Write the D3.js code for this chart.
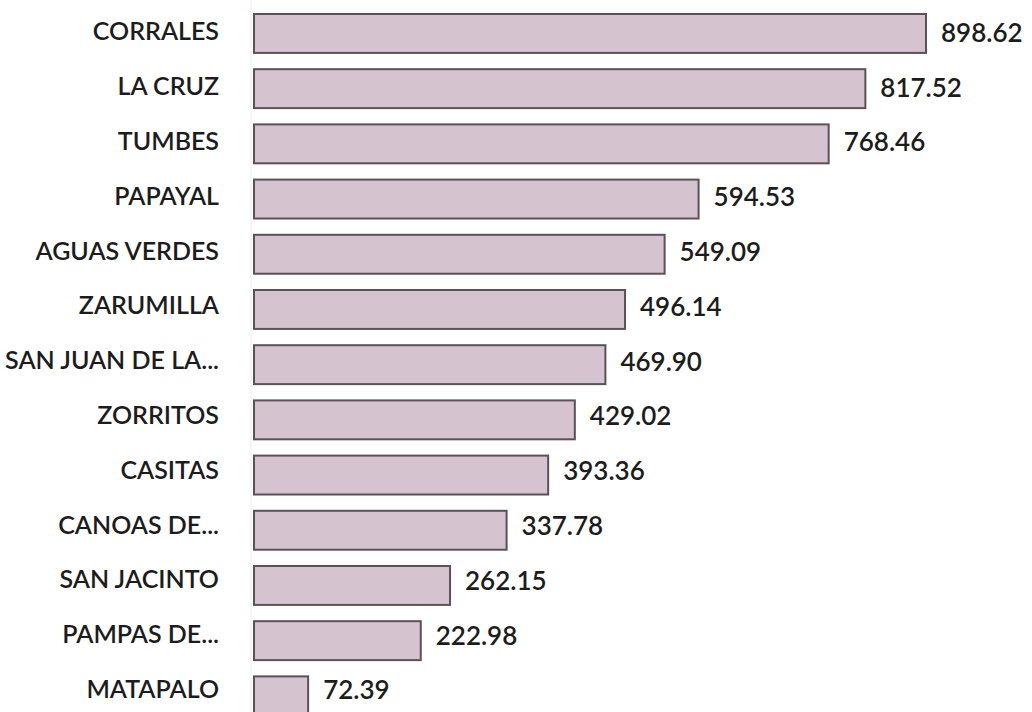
<!DOCTYPE html>
<html>
<head>
<meta charset="utf-8">
<script src="https://cdn.jsdelivr.net/npm/d3@7"></script>
<style>
  body { margin: 0; background: #fff; }
  text { font-family: Lato, "Open Sans", sans-serif; fill: #1c1c1c; font-weight: 600; }
</style>
</head>
<body>
<script>
// data
const districts = ['CORRALES', 'LA CRUZ', 'TUMBES', 'PAPAYAL', 'AGUAS VERDES', 'ZARUMILLA',
  'SAN JUAN DE LA...', 'ZORRITOS', 'CASITAS', 'CANOAS DE...', 'SAN JACINTO', 'PAMPAS DE...', 'MATAPALO'];
const values = [898.62, 817.52, 768.46, 594.53, 549.09, 496.14, 469.90, 429.02, 393.36, 337.78, 262.15, 222.98, 72.39];

const W = 1032, H = 712;
const margin = { left: 254, top: 14 };
const step = 55.2, pad = 0.295;

const svg = d3.select('body').append('svg')
    .attr('width', W)
    .attr('height', H);

const x = d3.scaleLinear()
    .domain([0, 898.62])
    .range([margin.left, 926]);

const y = d3.scaleBand()
    .domain(districts)
    .range([margin.top, margin.top + step * (districts.length - pad)])
    .paddingInner(pad)
    .paddingOuter(0);

// faint axis line
svg.append('line')
    .attr('x1', margin.left - 3).attr('x2', margin.left - 3)
    .attr('y1', 0).attr('y2', H)
    .attr('stroke', '#ededed');

svg.selectAll('rect.bar')
    .data(districts)
    .join('rect')
    .attr('class', 'bar')
    .attr('x', x(0))
    .attr('y', d => y(d))
    .attr('width', (d, i) => x(values[i]) - x(0))
    .attr('height', y.bandwidth())
    .attr('fill', '#d6c3d0')
    .attr('stroke', '#5a5257')
    .attr('stroke-width', 2);

svg.selectAll('text.cat')
    .data(districts)
    .join('text')
    .attr('class', 'cat')
    .attr('x', 219)
    .attr('y', (d, i) => y(d) + y.bandwidth() / 2 - 2 - i * 0.4)
    .attr('dy', '0.36em')
    .attr('text-anchor', 'end')
    .style('font-size', '25px')
    .text(d => d);

svg.selectAll('text.val')
    .data(districts)
    .join('text')
    .attr('class', 'val')
    .attr('x', (d, i) => x(values[i]) + 15)
    .attr('y', (d, i) => y(d) + y.bandwidth() / 2 - 1 - i * 0.4)
    .attr('dy', '0.36em')
    .style('font-size', '26px')
    .text((d, i) => values[i].toFixed(2));
</script>
</body>
</html>
